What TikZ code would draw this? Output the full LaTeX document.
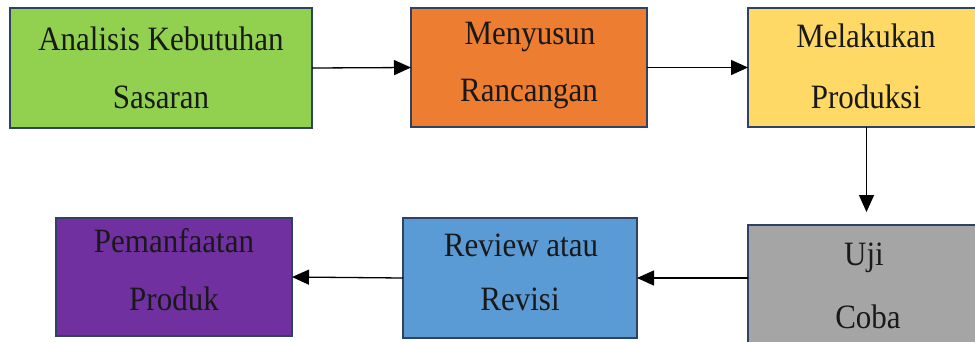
\documentclass[tikz,border=0pt]{standalone}
\usepackage{fontspec}
\setmainfont{Liberation Serif}
\usetikzlibrary{arrows.meta}
\definecolor{cgreen}{HTML}{92D050}
\definecolor{corange}{HTML}{ED7D31}
\definecolor{cyellow}{HTML}{FFD966}
\definecolor{cgray}{HTML}{A5A5A5}
\definecolor{cblue}{HTML}{5B9BD5}
\definecolor{cpurple}{HTML}{7030A0}
\definecolor{cborder}{HTML}{2F4264}
\begin{document}
\begin{tikzpicture}[x=1pt,y=-1pt,
  box/.style={draw=cborder, line width=1.6pt, rectangle, anchor=north west, inner sep=0pt, outer sep=0pt},
  txt/.style={anchor=base, inner sep=0pt, font=\fontsize{31}{36}\selectfont, text=black!90},
  arr/.style={line width=1.3pt, -{Triangle[length=17pt,width=15pt]}}]
\useasboundingbox (0,0) rectangle (975,341);
\clip (0,0) rectangle (975,341);
\node[box, fill=cgreen,  minimum width=302pt, minimum height=120pt] (b1) at (10,8) {};
\node[box, fill=corange, minimum width=236pt, minimum height=119pt] (b2) at (411,8) {};
\node[box, fill=cyellow, minimum width=237pt, minimum height=119pt] (b3) at (748,8) {};
\node[box, fill=cgray,   minimum width=237pt, minimum height=120pt] (b4) at (748,225) {};
\node[box, fill=cblue,   minimum width=234pt, minimum height=120pt] (b5) at (403,218) {};
\node[box, fill=cpurple, minimum width=236pt, minimum height=118pt] (b6) at (56,218) {};
\node[txt] (t1a) at (161,50) {\scalebox{1}[1.1]{Analisis Kebutuhan}};
\node[txt] (t1b) at (161,108) {\scalebox{1}[1.1]{Sasaran}};
\node[txt] (t2a) at (530,44) {\scalebox{1}[1.1]{Menyusun}};
\node[txt] (t2b) at (529,101) {\scalebox{1}[1.1]{Rancangan}};
\node[txt] (t3a) at (866,47) {\scalebox{1}[1.1]{Melakukan}};
\node[txt] (t3b) at (866,108) {\scalebox{1}[1.1]{Produksi}};
\node[txt] (t4a) at (864,265) {\scalebox{1}[1.1]{Uji}};
\node[txt] (t4b) at (868,328) {\scalebox{1}[1.1]{Coba}};
\node[txt] (t5a) at (521,256) {\scalebox{1}[1.1]{Review atau}};
\node[txt] (t5b) at (520,310) {\scalebox{1}[1.1]{Revisi}};
\node[txt] (t6a) at (174,252) {\scalebox{1}[1.1]{Pemanfaatan}};
\node[txt] (t6b) at (174,310) {\scalebox{1}[1.1]{Produk}};
\draw[arr] (b1.east) -- (b2.west);
\draw[arr] (b2.east) -- (b3.west);
\draw[arr, shorten >=13pt] (b3.south) -- (b4.north);
\draw[arr] ([yshift=7pt]b4.west) -- (b5.east);
\draw[arr] (b5.west) -- (b6.east);
\end{tikzpicture}
\end{document}
